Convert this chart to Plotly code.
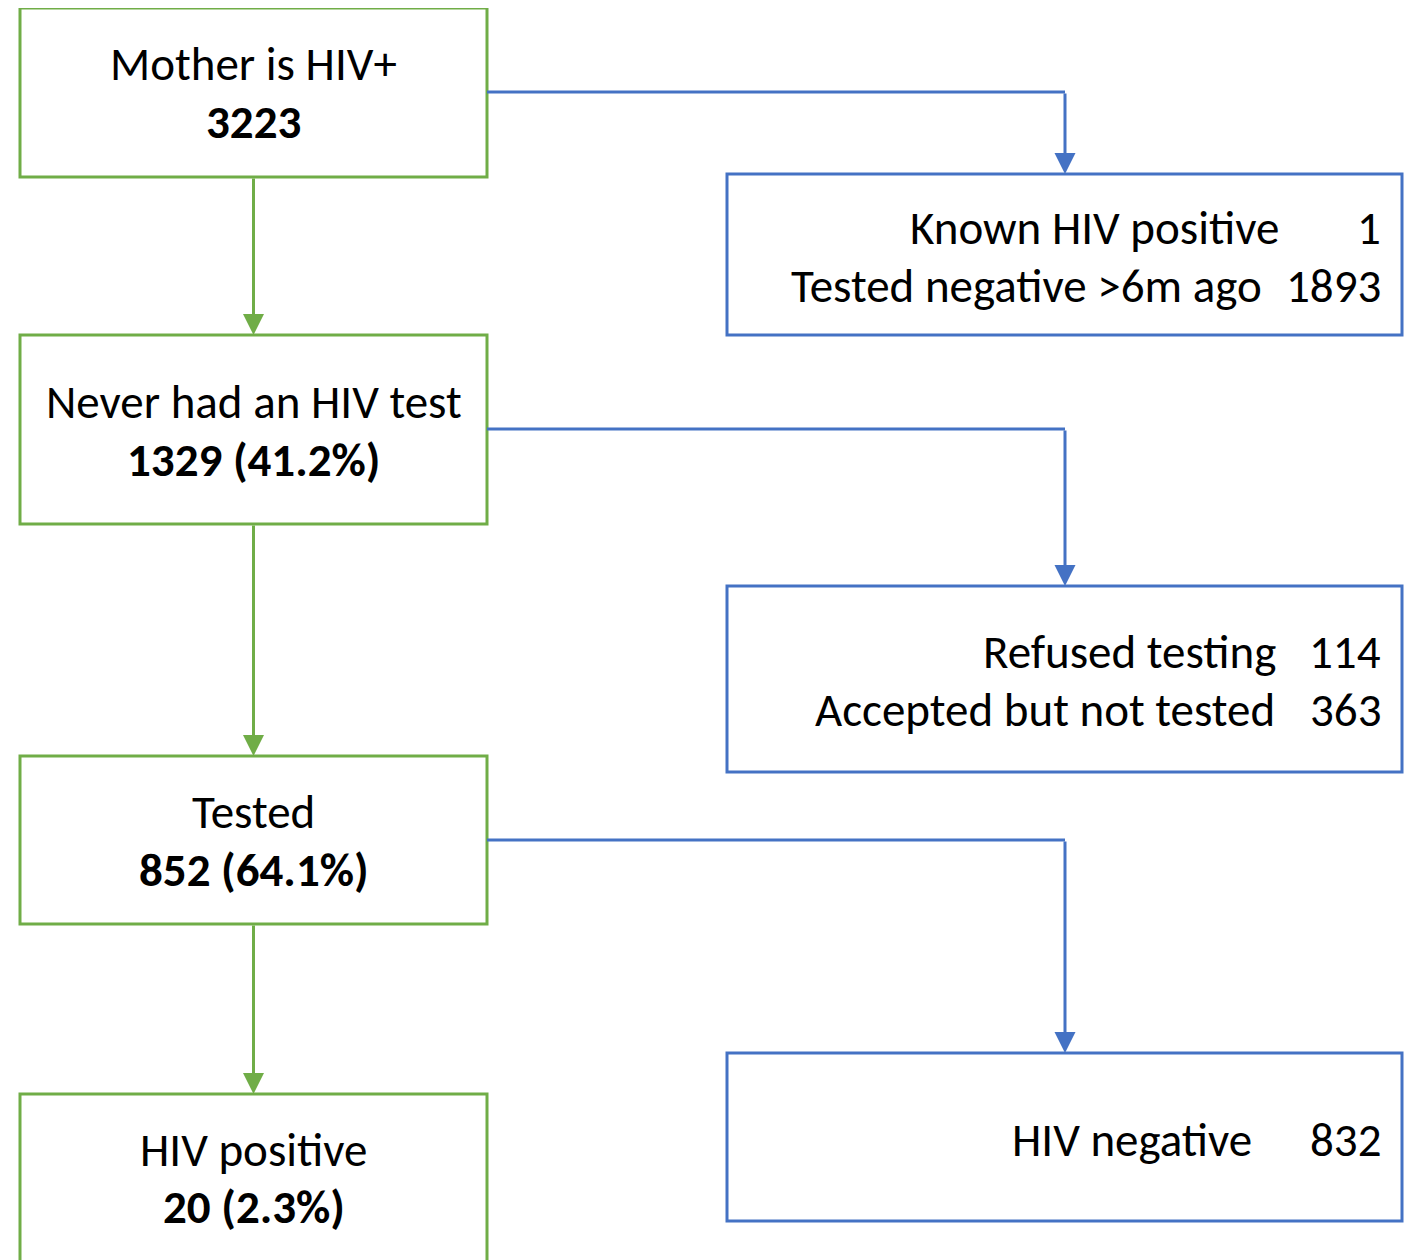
import plotly.graph_objects as go

# Flowchart content
left_labels = ["Mother is HIV+", "Never had an HIV test", "Tested", "HIV positive"]
left_counts = ["3223", "1329 (41.2%)", "852 (64.1%)", "20 (2.3%)"]

right_labels = [
    ["Known HIV positive", "Tested negative >6m ago"],
    ["Refused testing", "Accepted but not tested"],
    ["HIV negative"],
]
right_counts = [[1, 1893], [114, 363], [832]]

GREEN = "#70AD47"
BLUE = "#4472C4"
FONT = "Carlito, Lato, sans-serif"
FS = 47

# box geometry in page pixels (x0, y0, x1, y1)
left_boxes = [(20, 8, 487, 177), (20, 335, 487, 524), (20, 756, 487, 924), (20, 1094, 487, 1275)]
right_boxes = [(727, 174, 1402, 335), (727, 586, 1402, 772), (727, 1053, 1402, 1221)]
branch_y = [92, 429, 840]
left_text_y = [[64, 122], [402, 460], [812, 870], [1150, 1207]]
right_text_y = [[228, 286], [652, 710], [1140]]
label_end = [[1281, 1264], [1278, 1277], [1254]]

# the page body has an 8px margin; shift the axes so that coordinates are page pixels
PAD = 8

fig = go.Figure()
shapes = []
annotations = []

for (x0, y0, x1, y1), lab, cnt, ys in zip(left_boxes, left_labels, left_counts, left_text_y):
    shapes.append(dict(type="rect", x0=x0, y0=y0, x1=x1, y1=y1,
                       line=dict(color=GREEN, width=3), fillcolor="white"))
    xc = (x0 + x1) / 2
    annotations.append(dict(x=xc, y=ys[0], text=lab, showarrow=False,
                            font=dict(size=FS, color="black", family=FONT)))
    annotations.append(dict(x=xc, y=ys[1], text="<b>%s</b>" % cnt, showarrow=False,
                            font=dict(size=FS, color="black", family=FONT)))

for (x0, y0, x1, y1), labs, cnts, ys, ends in zip(right_boxes, right_labels, right_counts,
                                                   right_text_y, label_end):
    shapes.append(dict(type="rect", x0=x0, y0=y0, x1=x1, y1=y1,
                       line=dict(color=BLUE, width=3), fillcolor="white"))
    for lab, c, y, xe in zip(labs, cnts, ys, ends):
        annotations.append(dict(x=xe, y=y, text=lab, showarrow=False, xanchor="right",
                                font=dict(size=FS, color="black", family=FONT)))
        annotations.append(dict(x=1383, y=y, text=str(c), showarrow=False, xanchor="right",
                                font=dict(size=FS, color="black", family=FONT)))

# green down arrows between left boxes
for i in range(len(left_boxes) - 1):
    xm = (left_boxes[i][0] + left_boxes[i][2]) / 2
    annotations.append(dict(x=xm, y=left_boxes[i + 1][1], ax=xm, ay=left_boxes[i][3],
                            xref="x", yref="y", axref="x", ayref="y", text="",
                            showarrow=True, arrowhead=2, arrowsize=1.4, arrowwidth=3,
                            arrowcolor=GREEN))

# blue elbow arrows to right boxes
for i, by in enumerate(branch_y):
    xm = 1065
    shapes.append(dict(type="line", x0=487, y0=by, x1=xm, y1=by,
                       line=dict(color=BLUE, width=3)))
    annotations.append(dict(x=xm, y=right_boxes[i][1], ax=xm, ay=by,
                            xref="x", yref="y", axref="x", ayref="y", text="",
                            showarrow=True, arrowhead=2, arrowsize=1.4, arrowwidth=3,
                            arrowcolor=BLUE))

fig.update_layout(
    width=1414 - PAD, height=1260 - PAD,
    margin=dict(l=0, r=0, t=0, b=0),
    paper_bgcolor="white", plot_bgcolor="white",
    xaxis=dict(range=[PAD, 1414], visible=False, fixedrange=True),
    yaxis=dict(range=[1260, PAD], visible=False, fixedrange=True),
    shapes=shapes, annotations=annotations, showlegend=False,
)

fig.write_html("out.html")
